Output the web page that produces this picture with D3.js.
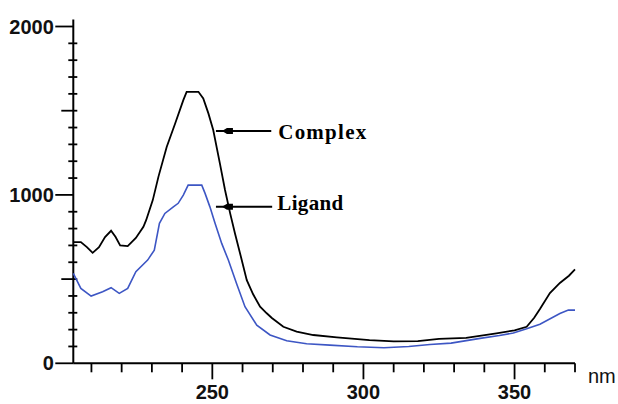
<!DOCTYPE html>
<html>
<head>
<meta charset="utf-8">
<script src="https://cdn.jsdelivr.net/npm/d3@7"></script>
<style>
body { margin: 0; background: #fff; }
</style>
</head>
<body>
<div id="chart"></div>
<script>
// spectrum (nm, absorbance units)
var complexNm  = [204, 206.5, 208.5, 210.4, 212.5, 214.5, 216.5, 218, 219.5, 222, 224.7, 227.2, 228.1, 230.3, 232.2, 234.9, 237.7, 240.4, 241.5, 245.4, 247, 248.7, 250.3, 252.5, 254.2, 255.9, 257.5, 259.5, 261.4, 263.5, 265.8, 268, 269.7, 273.5, 277.9, 283.4, 291.2, 302, 310, 318, 325, 334, 344, 350, 354, 356.5, 358.4, 361.7, 365, 368, 370];
var complexAbs = [720, 720, 690, 656, 690, 750, 787, 750, 700, 696, 744, 811, 850, 969, 1110, 1285, 1424, 1563, 1612, 1612, 1573, 1484, 1385, 1187, 1029, 890, 771, 630, 494, 410, 336, 297, 269, 217, 188, 168, 154, 138, 130, 132, 145, 151, 178, 196, 217, 270, 322, 417, 477, 520, 558];

var ligandNm  = [204, 206.5, 209.9, 213.7, 216.5, 219.2, 222, 224.7, 228.6, 230.8, 232.5, 234.3, 237.1, 238.7, 240.4, 242, 246.5, 247.6, 249.2, 250.9, 253.1, 255.3, 258.1, 260.8, 264.7, 269.1, 274.6, 281.2, 288.9, 298, 306.8, 315, 322, 329, 338.6, 345, 349.6, 354, 358.4, 365, 367.8, 370];
var ligandAbs = [534, 445, 399, 425, 449, 415, 445, 544, 613, 672, 831, 890, 929, 950, 999, 1058, 1058, 1009, 929, 831, 712, 613, 470, 336, 227, 168, 134, 116, 108, 98, 92, 100, 112, 120, 148, 165, 180, 205, 232, 296, 316, 316];

var yLabels = [0, 1000, 2000];
var yMidTicks = [500, 1500];
var xLabels = [250, 300, 350];
var xUnit = "nm";

// arrow labels
var noteText   = ["Complex", "Ligand"];
var noteTipNm  = [251.2, 251.2];
var noteTipAbs = [1379, 929];
var noteTailNm = [269.5, 269.8];
var noteTextNm = [271.8, 271.5];
var noteTextAbs = [1334, 909];
var noteTextLen = [88, 66];

var width = 618, height = 404;

var svg = d3.select("#chart")
    .append("svg")
    .attr("width", width)
    .attr("height", height)
    .style("display", "block")
    .style("background", "#fff");

var x = d3.scaleLinear().domain([204, 370]).range([73.3, 575]);
var y = d3.scaleLinear().domain([0, 2000]).range([363.3, 26.5]);

var axisFont = "'Liberation Sans', Arial, sans-serif";

//y axis line (runs a bit above the 2000 tick)
svg.append("line")
    .attr("x1", x(204)).attr("x2", x(204))
    .attr("y1", y(2000) - 7).attr("y2", y(0))
    .attr("stroke", "#000").attr("stroke-width", 2);

//x axis line
svg.append("line")
    .attr("x1", x(204)).attr("x2", x(370))
    .attr("y1", y(0)).attr("y2", y(0))
    .attr("stroke", "#000").attr("stroke-width", 2);

//y ticks every 100, labelled ones handled separately
var yMinor = d3.range(100, 2000, 100).filter(function(d){
    return yLabels.indexOf(d) < 0 && yMidTicks.indexOf(d) < 0;
});
svg.append("g").selectAll("line")
    .data(yMinor)
    .enter().append("line")
    .attr("x1", x(204) - 5).attr("x2", x(204) + 4)
    .attr("y1", y).attr("y2", y)
    .attr("stroke", "#000").attr("stroke-width", 1.8);

svg.append("g").selectAll("line")
    .data(yMidTicks)
    .enter().append("line")
    .attr("x1", x(204) - 12).attr("x2", x(204) + 4)
    .attr("y1", y).attr("y2", y)
    .attr("stroke", "#000").attr("stroke-width", 1.8);

svg.append("g").selectAll("line")
    .data(yLabels)
    .enter().append("line")
    .attr("x1", x(204) - 18).attr("x2", x(204))
    .attr("y1", y).attr("y2", y)
    .attr("stroke", "#000").attr("stroke-width", 1.8);

svg.append("g").selectAll("text")
    .data(yLabels)
    .enter().append("text")
    .attr("x", x(204) - 19.5)
    .attr("y", function(d){ return y(d) + 7; })
    .attr("text-anchor", "end")
    .attr("font-family", axisFont)
    .attr("font-size", "20px")
    .attr("font-weight", "bold")
    .attr("fill", "#111")
    .text(function(d){ return d; });

//x ticks every 10 nm
var xMinor = d3.range(210, 371, 10).filter(function(d){ return xLabels.indexOf(d) < 0; });
svg.append("g").selectAll("line")
    .data(xMinor)
    .enter().append("line")
    .attr("x1", x).attr("x2", x)
    .attr("y1", y(0)).attr("y2", y(0) + 9)
    .attr("stroke", "#000").attr("stroke-width", 1.8);

svg.append("g").selectAll("line")
    .data(xLabels)
    .enter().append("line")
    .attr("x1", x).attr("x2", x)
    .attr("y1", y(0)).attr("y2", y(0) + 16)
    .attr("stroke", "#000").attr("stroke-width", 1.8);

svg.append("g").selectAll("text")
    .data(xLabels)
    .enter().append("text")
    .attr("x", x)
    .attr("y", y(0) + 36)
    .attr("text-anchor", "middle")
    .attr("font-family", axisFont)
    .attr("font-size", "20px")
    .attr("font-weight", "bold")
    .attr("fill", "#111")
    .text(function(d){ return d; });

svg.append("text")
    .attr("x", x(370) + 13)
    .attr("y", y(0) + 20)
    .attr("font-family", axisFont)
    .attr("font-size", "20px")
    .attr("fill", "#111")
    .text(xUnit);

//spectra
var line = d3.line()
    .x(function(d){ return x(d[0]); })
    .y(function(d){ return y(d[1]); });

svg.append("path")
    .datum(d3.zip(ligandNm, ligandAbs))
    .attr("d", line)
    .attr("fill", "none")
    .attr("stroke", "#3d56c4")
    .attr("stroke-width", 1.6);

svg.append("path")
    .datum(d3.zip(complexNm, complexAbs))
    .attr("d", line)
    .attr("fill", "none")
    .attr("stroke", "#000")
    .attr("stroke-width", 1.8);

//arrows + labels
var notes = svg.append("g").selectAll("g")
    .data(noteText)
    .enter().append("g");

notes.append("line")
    .attr("x1", function(d,i){ return x(noteTipNm[i]); })
    .attr("x2", function(d,i){ return x(noteTailNm[i]); })
    .attr("y1", function(d,i){ return y(noteTipAbs[i]); })
    .attr("y2", function(d,i){ return y(noteTipAbs[i]); })
    .attr("stroke", "#000").attr("stroke-width", 2);

notes.append("path")
    .attr("d", function(d,i){
        var tx = x(noteTipNm[i]), ty = y(noteTipAbs[i]);
        return "M" + (tx + 6) + "," + ty +
            "L" + (tx + 11) + "," + (ty - 3) +
            "L" + (tx + 17) + "," + (ty - 3) +
            "L" + (tx + 17) + "," + (ty + 3) +
            "L" + (tx + 11) + "," + (ty + 3) + "Z";
    })
    .attr("fill", "#000");

notes.append("text")
    .attr("x", function(d,i){ return x(noteTextNm[i]); })
    .attr("y", function(d,i){ return y(noteTextAbs[i]); })
    .attr("textLength", function(d,i){ return noteTextLen[i]; })
    .attr("lengthAdjust", "spacing")
    .attr("font-family", "'Liberation Serif', 'Times New Roman', serif")
    .attr("font-size", "21px")
    .attr("font-weight", "bold")
    .attr("fill", "#000")
    .text(function(d){ return d; });
</script>
</body>
</html>
